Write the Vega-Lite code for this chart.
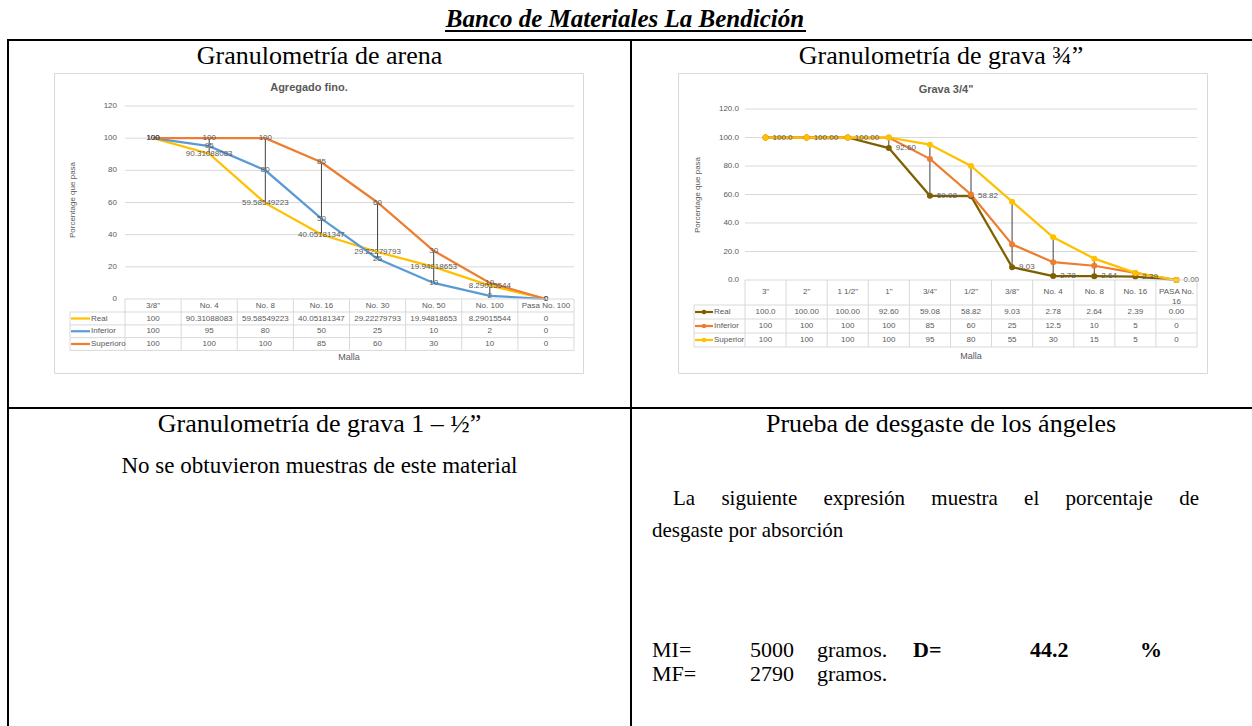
{
"$schema":"https://vega.github.io/schema/vega-lite/v6.json",
"width":1252,"height":726,"padding":0,"autosize":{"type":"none"},
"background":"white",
"config":{"view":{"stroke":null},"axis":{"disable":true},"legend":{"disable":true},"text":{"font":"Liberation Sans"}},
"datasets":{
"fino":[
{"m":"3/8\"","s":"Real","v":100},{"m":"No. 4","s":"Real","v":90.31088083},{"m":"No. 8","s":"Real","v":59.58549223},{"m":"No. 16","s":"Real","v":40.05181347},{"m":"No. 30","s":"Real","v":29.22279793},{"m":"No. 50","s":"Real","v":19.94818653},{"m":"No. 100","s":"Real","v":8.29015544},{"m":"Pasa No. 100","s":"Real","v":0},
{"m":"3/8\"","s":"Inferior","v":100},{"m":"No. 4","s":"Inferior","v":95},{"m":"No. 8","s":"Inferior","v":80},{"m":"No. 16","s":"Inferior","v":50},{"m":"No. 30","s":"Inferior","v":25},{"m":"No. 50","s":"Inferior","v":10},{"m":"No. 100","s":"Inferior","v":2},{"m":"Pasa No. 100","s":"Inferior","v":0},
{"m":"3/8\"","s":"Superioro","v":100},{"m":"No. 4","s":"Superioro","v":100},{"m":"No. 8","s":"Superioro","v":100},{"m":"No. 16","s":"Superioro","v":85},{"m":"No. 30","s":"Superioro","v":60},{"m":"No. 50","s":"Superioro","v":30},{"m":"No. 100","s":"Superioro","v":10},{"m":"Pasa No. 100","s":"Superioro","v":0}
],
"grava":[
{"m":"3\"","s":"Real","v":100,"t":"100.0"},{"m":"2\"","s":"Real","v":100,"t":"100.00"},{"m":"1 1/2\"","s":"Real","v":100,"t":"100.00"},{"m":"1\"","s":"Real","v":92.6,"t":"92.60"},{"m":"3/4\"","s":"Real","v":59.08,"t":"59.08"},{"m":"1/2\"","s":"Real","v":58.82,"t":"58.82"},{"m":"3/8\"","s":"Real","v":9.03,"t":"9.03"},{"m":"No. 4","s":"Real","v":2.78,"t":"2.78"},{"m":"No. 8","s":"Real","v":2.64,"t":"2.64"},{"m":"No. 16","s":"Real","v":2.39,"t":"2.39"},{"m":"PASA No.\n16","s":"Real","v":0,"t":"0.00"},
{"m":"3\"","s":"Inferior","v":100,"t":"100"},{"m":"2\"","s":"Inferior","v":100,"t":"100"},{"m":"1 1/2\"","s":"Inferior","v":100,"t":"100"},{"m":"1\"","s":"Inferior","v":100,"t":"100"},{"m":"3/4\"","s":"Inferior","v":85,"t":"85"},{"m":"1/2\"","s":"Inferior","v":60,"t":"60"},{"m":"3/8\"","s":"Inferior","v":25,"t":"25"},{"m":"No. 4","s":"Inferior","v":12.5,"t":"12.5"},{"m":"No. 8","s":"Inferior","v":10,"t":"10"},{"m":"No. 16","s":"Inferior","v":5,"t":"5"},{"m":"PASA No.\n16","s":"Inferior","v":0,"t":"0"},
{"m":"3\"","s":"Superior","v":100,"t":"100"},{"m":"2\"","s":"Superior","v":100,"t":"100"},{"m":"1 1/2\"","s":"Superior","v":100,"t":"100"},{"m":"1\"","s":"Superior","v":100,"t":"100"},{"m":"3/4\"","s":"Superior","v":95,"t":"95"},{"m":"1/2\"","s":"Superior","v":80,"t":"80"},{"m":"3/8\"","s":"Superior","v":55,"t":"55"},{"m":"No. 4","s":"Superior","v":30,"t":"30"},{"m":"No. 8","s":"Superior","v":15,"t":"15"},{"m":"No. 16","s":"Superior","v":5,"t":"5"},{"m":"PASA No.\n16","s":"Superior","v":0,"t":"0"}
],
"ticks":[{"t":0},{"t":20},{"t":40},{"t":60},{"t":80},{"t":100},{"t":120}]
},
"resolve":{"scale":{"x":"independent","y":"independent","color":"independent"}},
"layer":[
{"data":{"values":[{}]},"mark":{"type":"text","text":"Banco de Materiales La Bendición","font":"Liberation Serif","fontSize":25,"fontWeight":"bold","fontStyle":"italic","align":"center","baseline":"alphabetic","color":"#000000"},"encoding":{"x":{"value":625},"y":{"value":27}}},
{"data":{"values":[{}]},"mark":{"type":"rule","color":"#000000","strokeWidth":2},"encoding":{"x":{"value":445},"x2":{"value":806},"y":{"value":31}}},
{"data":{"values":[{}]},"mark":{"type":"rule","color":"#000000","strokeWidth":2},"encoding":{"x":{"value":7},"x2":{"value":1252},"y":{"value":40}}},
{"data":{"values":[{}]},"mark":{"type":"rule","color":"#000000","strokeWidth":2},"encoding":{"x":{"value":8},"y":{"value":39},"y2":{"value":726}}},
{"data":{"values":[{}]},"mark":{"type":"rule","color":"#000000","strokeWidth":2},"encoding":{"x":{"value":631},"y":{"value":39},"y2":{"value":726}}},
{"data":{"values":[{}]},"mark":{"type":"rule","color":"#000000","strokeWidth":2},"encoding":{"x":{"value":7},"x2":{"value":1252},"y":{"value":408}}},
{"data":{"values":[{}]},"mark":{"type":"text","text":"Granulometría de arena","font":"Liberation Serif","fontSize":26,"align":"center","baseline":"alphabetic","color":"#000000"},"encoding":{"x":{"value":319.5},"y":{"value":64}}},
{"data":{"values":[{}]},"mark":{"type":"text","text":"Granulometría de grava ¾”","font":"Liberation Serif","fontSize":26,"align":"center","baseline":"alphabetic","color":"#000000"},"encoding":{"x":{"value":941},"y":{"value":64}}},
{"data":{"values":[{}]},"mark":{"type":"text","text":"Granulometría de grava 1 – ½”","font":"Liberation Serif","fontSize":26,"align":"center","baseline":"alphabetic","color":"#000000"},"encoding":{"x":{"value":319.5},"y":{"value":432}}},
{"data":{"values":[{}]},"mark":{"type":"text","text":"Prueba de desgaste de los ángeles","font":"Liberation Serif","fontSize":26,"align":"center","baseline":"alphabetic","color":"#000000"},"encoding":{"x":{"value":941},"y":{"value":432}}},
{"data":{"values":[{}]},"mark":{"type":"text","text":"No se obtuvieron muestras de este material","font":"Liberation Serif","fontSize":23,"align":"center","baseline":"alphabetic","color":"#000000"},"encoding":{"x":{"value":319.5},"y":{"value":473}}},
{"data":{"values":[{}]},"mark":{"type":"text","text":"La \u00a0\u00a0\u00a0\u00a0siguiente \u00a0\u00a0\u00a0\u00a0expresión \u00a0\u00a0\u00a0\u00a0muestra \u00a0\u00a0\u00a0\u00a0el \u00a0\u00a0\u00a0\u00a0porcentaje \u00a0\u00a0\u00a0\u00a0de","font":"Liberation Serif","fontSize":21,"align":"left","baseline":"alphabetic","color":"#000000"},"encoding":{"x":{"value":673},"y":{"value":505}}},
{"data":{"values":[{}]},"mark":{"type":"text","text":"desgaste por absorción","font":"Liberation Serif","fontSize":21,"align":"left","baseline":"alphabetic","color":"#000000"},"encoding":{"x":{"value":652},"y":{"value":537}}},
{"data":{"values":[{}]},"mark":{"type":"text","text":"MI=","font":"Liberation Serif","fontSize":22,"align":"left","baseline":"alphabetic","color":"#000000"},"encoding":{"x":{"value":652},"y":{"value":657}}},
{"data":{"values":[{}]},"mark":{"type":"text","text":"5000","font":"Liberation Serif","fontSize":22,"align":"left","baseline":"alphabetic","color":"#000000"},"encoding":{"x":{"value":750},"y":{"value":657}}},
{"data":{"values":[{}]},"mark":{"type":"text","text":"gramos.","font":"Liberation Serif","fontSize":22,"align":"left","baseline":"alphabetic","color":"#000000"},"encoding":{"x":{"value":817},"y":{"value":657}}},
{"data":{"values":[{}]},"mark":{"type":"text","text":"D=","font":"Liberation Serif","fontSize":22,"fontWeight":"bold","align":"left","baseline":"alphabetic","color":"#000000"},"encoding":{"x":{"value":913},"y":{"value":657}}},
{"data":{"values":[{}]},"mark":{"type":"text","text":"44.2","font":"Liberation Serif","fontSize":22,"fontWeight":"bold","align":"left","baseline":"alphabetic","color":"#000000"},"encoding":{"x":{"value":1030},"y":{"value":657}}},
{"data":{"values":[{}]},"mark":{"type":"text","text":"%","font":"Liberation Serif","fontSize":22,"fontWeight":"bold","align":"left","baseline":"alphabetic","color":"#000000"},"encoding":{"x":{"value":1140},"y":{"value":657}}},
{"data":{"values":[{}]},"mark":{"type":"text","text":"MF=","font":"Liberation Serif","fontSize":22,"align":"left","baseline":"alphabetic","color":"#000000"},"encoding":{"x":{"value":652},"y":{"value":681}}},
{"data":{"values":[{}]},"mark":{"type":"text","text":"2790","font":"Liberation Serif","fontSize":22,"align":"left","baseline":"alphabetic","color":"#000000"},"encoding":{"x":{"value":750},"y":{"value":681}}},
{"data":{"values":[{}]},"mark":{"type":"text","text":"gramos.","font":"Liberation Serif","fontSize":22,"align":"left","baseline":"alphabetic","color":"#000000"},"encoding":{"x":{"value":817},"y":{"value":681}}},
{"data":{"values":[{}]},"mark":{"type":"rect","fill":"#FFFFFF","stroke":"#D9D9D9","strokeWidth":1},"encoding":{"x":{"value":54.5},"x2":{"value":583.5},"y":{"value":73.5},"y2":{"value":373.5}}},
{"data":{"values":[{}]},"mark":{"type":"rect","fill":"#FFFFFF","stroke":"#D9D9D9","strokeWidth":1},"encoding":{"x":{"value":678.5},"x2":{"value":1207.5},"y":{"value":73.5},"y2":{"value":373.5}}},
{"data":{"values":[{}]},"mark":{"type":"text","text":"Agregado fino.","fontSize":11,"fontWeight":"bold","align":"center","baseline":"middle","color":"#595959"},"encoding":{"x":{"value":309},"y":{"value":88}}},
{"data":{"values":[{}]},"mark":{"type":"text","text":"Grava 3/4\"","fontSize":11,"fontWeight":"bold","align":"center","baseline":"middle","color":"#595959"},"encoding":{"x":{"value":946},"y":{"value":90}}},
{"data":{"values":[{}]},"mark":{"type":"text","text":"Porcentage que pasa","fontSize":8,"angle":270,"align":"center","baseline":"middle","color":"#595959"},"encoding":{"x":{"value":73},"y":{"value":200}}},
{"data":{"values":[{}]},"mark":{"type":"text","text":"Porcentage que pasa","fontSize":8,"angle":270,"align":"center","baseline":"middle","color":"#595959"},"encoding":{"x":{"value":698},"y":{"value":195}}},
{"data":{"values":[{}]},"mark":{"type":"text","text":"Malla","fontSize":9,"align":"center","baseline":"middle","color":"#595959"},"encoding":{"x":{"value":349},"y":{"value":357}}},
{"data":{"values":[{}]},"mark":{"type":"text","text":"Malla","fontSize":9,"align":"center","baseline":"middle","color":"#595959"},"encoding":{"x":{"value":971},"y":{"value":356}}},

{"layer":[
{"data":{"name":"ticks"},"transform":[{"filter":"datum.t > 0"}],"mark":{"type":"rule","color":"#D9D9D9","strokeWidth":1},"encoding":{"x":{"value":125},"x2":{"value":574},"y":{"field":"t","type":"quantitative","scale":{"type":"linear","domain":[0,120],"range":[299,106],"nice":false,"zero":false}}}},
{"data":{"name":"ticks"},"mark":{"type":"text","align":"right","baseline":"middle","fontSize":8,"color":"#595959"},"encoding":{"x":{"value":117},"y":{"field":"t","type":"quantitative","scale":{"type":"linear","domain":[0,120],"range":[299,106],"nice":false,"zero":false}},"text":{"field":"t","type":"quantitative"}}},
{"data":{"name":"fino"},"mark":{"type":"rule","color":"#404040","strokeWidth":1},"encoding":{"x":{"field":"m","type":"nominal","scale":{"type":"band","domain":["3/8\"","No. 4","No. 8","No. 16","No. 30","No. 50","No. 100","Pasa No. 100"],"range":[125,574],"paddingInner":0,"paddingOuter":0}},"y":{"aggregate":"min","field":"v","type":"quantitative","scale":{"type":"linear","domain":[0,120],"range":[299,106],"nice":false,"zero":false}},"y2":{"aggregate":"max","field":"v"}}},
{"data":{"name":"fino"},"mark":{"type":"line","strokeWidth":2.25},"encoding":{"x":{"field":"m","type":"nominal","sort":["3/8\"","No. 4","No. 8","No. 16","No. 30","No. 50","No. 100","Pasa No. 100"],"scale":{"type":"band","domain":["3/8\"","No. 4","No. 8","No. 16","No. 30","No. 50","No. 100","Pasa No. 100"],"range":[125,574],"paddingInner":0,"paddingOuter":0}},"y":{"field":"v","type":"quantitative","scale":{"type":"linear","domain":[0,120],"range":[299,106],"nice":false,"zero":false}},"color":{"field":"s","type":"nominal","scale":{"domain":["Real","Inferior","Superioro"],"range":["#FFC000","#5B9BD5","#ED7D31"]},"legend":null}}},
{"data":{"name":"fino"},"mark":{"type":"text","fontSize":8,"color":"#595959","baseline":"middle","align":"center"},"encoding":{"x":{"field":"m","type":"nominal","scale":{"type":"band","domain":["3/8\"","No. 4","No. 8","No. 16","No. 30","No. 50","No. 100","Pasa No. 100"],"range":[125,574],"paddingInner":0,"paddingOuter":0}},"y":{"field":"v","type":"quantitative","scale":{"type":"linear","domain":[0,120],"range":[299,106],"nice":false,"zero":false}},"text":{"field":"v","type":"quantitative"}}}
]},

{"layer":[
{"data":{"values":[{}]},"mark":{"type":"rule","color":"#D9D9D9","strokeWidth":1},"encoding":{"x":{"value":125},"x2":{"value":574},"y":{"value":299}}},
{"data":{"values":[{}]},"mark":{"type":"rule","color":"#D9D9D9","strokeWidth":1},"encoding":{"x":{"value":70},"x2":{"value":574},"y":{"value":312}}},
{"data":{"values":[{}]},"mark":{"type":"rule","color":"#D9D9D9","strokeWidth":1},"encoding":{"x":{"value":70},"y":{"value":312},"y2":{"value":350.5}}},
{"data":{"values":[{}]},"mark":{"type":"rule","color":"#D9D9D9","strokeWidth":1},"encoding":{"x":{"value":574},"y":{"value":299},"y2":{"value":350.5}}},
{"data":{"name":"fino"},"transform":[{"filter":{"field":"m","equal":"No. 4"}}],"mark":{"type":"rule","color":"#D9D9D9","strokeWidth":1,"yOffset":6.4},"encoding":{"x":{"value":70},"x2":{"value":574},"y":{"field":"s","type":"nominal","scale":{"type":"point","domain":["Real","Inferior","Superioro"],"range":[318.5,344],"padding":0}}}},
{"data":{"name":"fino"},"transform":[{"filter":{"field":"s","equal":"Real"}}],"mark":{"type":"rule","color":"#D9D9D9","strokeWidth":1},"encoding":{"x":{"field":"m","type":"nominal","bandPosition":0,"scale":{"type":"band","domain":["3/8\"","No. 4","No. 8","No. 16","No. 30","No. 50","No. 100","Pasa No. 100"],"range":[125,574],"paddingInner":0,"paddingOuter":0}},"y":{"value":299},"y2":{"value":350.5}}},
{"data":{"name":"fino"},"transform":[{"filter":{"field":"s","equal":"Real"}}],"mark":{"type":"text","fontSize":8,"color":"#595959","baseline":"middle","align":"center"},"encoding":{"x":{"field":"m","type":"nominal","scale":{"type":"band","domain":["3/8\"","No. 4","No. 8","No. 16","No. 30","No. 50","No. 100","Pasa No. 100"],"range":[125,574],"paddingInner":0,"paddingOuter":0}},"y":{"value":305.5},"text":{"field":"m","type":"nominal"}}},
{"data":{"name":"fino"},"mark":{"type":"text","fontSize":8,"color":"#595959","baseline":"middle","align":"center"},"encoding":{"x":{"field":"m","type":"nominal","scale":{"type":"band","domain":["3/8\"","No. 4","No. 8","No. 16","No. 30","No. 50","No. 100","Pasa No. 100"],"range":[125,574],"paddingInner":0,"paddingOuter":0}},"y":{"field":"s","type":"nominal","scale":{"type":"point","domain":["Real","Inferior","Superioro"],"range":[318.5,344],"padding":0}},"text":{"field":"v","type":"quantitative"}}},
{"data":{"name":"fino"},"transform":[{"filter":{"field":"m","equal":"No. 4"}}],"mark":{"type":"rule","strokeWidth":2.2},"encoding":{"x":{"value":71},"x2":{"value":90},"y":{"field":"s","type":"nominal","scale":{"type":"point","domain":["Real","Inferior","Superioro"],"range":[318.5,344],"padding":0}},"color":{"field":"s","type":"nominal","scale":{"domain":["Real","Inferior","Superioro"],"range":["#FFC000","#5B9BD5","#ED7D31"]},"legend":null}}},
{"data":{"name":"fino"},"transform":[{"filter":{"field":"m","equal":"No. 4"}}],"mark":{"type":"text","fontSize":8,"color":"#595959","baseline":"middle","align":"left"},"encoding":{"x":{"value":91},"y":{"field":"s","type":"nominal","scale":{"type":"point","domain":["Real","Inferior","Superioro"],"range":[318.5,344],"padding":0}},"text":{"field":"s","type":"nominal"}}}
]},

{"layer":[
{"data":{"name":"ticks"},"transform":[{"filter":"datum.t > 0"}],"mark":{"type":"rule","color":"#D9D9D9","strokeWidth":1},"encoding":{"x":{"value":745},"x2":{"value":1197},"y":{"field":"t","type":"quantitative","scale":{"type":"linear","domain":[0,120],"range":[280,109],"nice":false,"zero":false}}}},
{"data":{"name":"ticks"},"mark":{"type":"text","align":"right","baseline":"middle","fontSize":8,"color":"#595959"},"encoding":{"x":{"value":739},"y":{"field":"t","type":"quantitative","scale":{"type":"linear","domain":[0,120],"range":[280,109],"nice":false,"zero":false}},"text":{"field":"t","type":"quantitative","format":".1f"}}},
{"data":{"name":"grava"},"mark":{"type":"rule","color":"#404040","strokeWidth":1},"encoding":{"x":{"field":"m","type":"nominal","scale":{"type":"band","domain":["3\"","2\"","1 1/2\"","1\"","3/4\"","1/2\"","3/8\"","No. 4","No. 8","No. 16","PASA No.\n16"],"range":[745,1197],"paddingInner":0,"paddingOuter":0}},"y":{"aggregate":"min","field":"v","type":"quantitative","scale":{"type":"linear","domain":[0,120],"range":[280,109],"nice":false,"zero":false}},"y2":{"aggregate":"max","field":"v"}}},
{"data":{"name":"grava"},"mark":{"type":"line","strokeWidth":2.25,"point":{"filled":true,"size":36}},"encoding":{"x":{"field":"m","type":"nominal","sort":["3\"","2\"","1 1/2\"","1\"","3/4\"","1/2\"","3/8\"","No. 4","No. 8","No. 16","PASA No.\n16"],"scale":{"type":"band","domain":["3\"","2\"","1 1/2\"","1\"","3/4\"","1/2\"","3/8\"","No. 4","No. 8","No. 16","PASA No.\n16"],"range":[745,1197],"paddingInner":0,"paddingOuter":0}},"y":{"field":"v","type":"quantitative","scale":{"type":"linear","domain":[0,120],"range":[280,109],"nice":false,"zero":false}},"color":{"field":"s","type":"nominal","scale":{"domain":["Real","Inferior","Superior"],"range":["#7F6000","#ED7D31","#FFC000"]},"legend":null}}},
{"data":{"name":"grava"},"transform":[{"filter":{"field":"s","equal":"Real"}}],"mark":{"type":"text","fontSize":8,"color":"#595959","baseline":"middle","align":"left","dx":7},"encoding":{"x":{"field":"m","type":"nominal","scale":{"type":"band","domain":["3\"","2\"","1 1/2\"","1\"","3/4\"","1/2\"","3/8\"","No. 4","No. 8","No. 16","PASA No.\n16"],"range":[745,1197],"paddingInner":0,"paddingOuter":0}},"y":{"field":"v","type":"quantitative","scale":{"type":"linear","domain":[0,120],"range":[280,109],"nice":false,"zero":false}},"text":{"field":"t","type":"nominal"}}}
]},

{"layer":[
{"data":{"values":[{}]},"mark":{"type":"rule","color":"#D9D9D9","strokeWidth":1},"encoding":{"x":{"value":745},"x2":{"value":1197},"y":{"value":280}}},
{"data":{"values":[{}]},"mark":{"type":"rule","color":"#D9D9D9","strokeWidth":1},"encoding":{"x":{"value":694},"x2":{"value":1197},"y":{"value":305}}},
{"data":{"values":[{}]},"mark":{"type":"rule","color":"#D9D9D9","strokeWidth":1},"encoding":{"x":{"value":694},"y":{"value":305},"y2":{"value":347}}},
{"data":{"values":[{}]},"mark":{"type":"rule","color":"#D9D9D9","strokeWidth":1},"encoding":{"x":{"value":1197},"y":{"value":280},"y2":{"value":347}}},
{"data":{"name":"grava"},"transform":[{"filter":{"field":"m","equal":"No. 4"}}],"mark":{"type":"rule","color":"#D9D9D9","strokeWidth":1,"yOffset":7},"encoding":{"x":{"value":694},"x2":{"value":1197},"y":{"field":"s","type":"nominal","scale":{"type":"point","domain":["Real","Inferior","Superior"],"range":[312,340],"padding":0}}}},
{"data":{"name":"grava"},"transform":[{"filter":{"field":"s","equal":"Real"}}],"mark":{"type":"rule","color":"#D9D9D9","strokeWidth":1},"encoding":{"x":{"field":"m","type":"nominal","bandPosition":0,"scale":{"type":"band","domain":["3\"","2\"","1 1/2\"","1\"","3/4\"","1/2\"","3/8\"","No. 4","No. 8","No. 16","PASA No.\n16"],"range":[745,1197],"paddingInner":0,"paddingOuter":0}},"y":{"value":280},"y2":{"value":347}}},
{"data":{"name":"grava"},"transform":[{"filter":{"field":"s","equal":"Real"}}],"mark":{"type":"text","fontSize":8,"color":"#595959","baseline":"middle","align":"center","lineBreak":"\n","lineHeight":10},"encoding":{"x":{"field":"m","type":"nominal","scale":{"type":"band","domain":["3\"","2\"","1 1/2\"","1\"","3/4\"","1/2\"","3/8\"","No. 4","No. 8","No. 16","PASA No.\n16"],"range":[745,1197],"paddingInner":0,"paddingOuter":0}},"y":{"value":292},"text":{"field":"m","type":"nominal"}}},
{"data":{"name":"grava"},"mark":{"type":"text","fontSize":8,"color":"#595959","baseline":"middle","align":"center"},"encoding":{"x":{"field":"m","type":"nominal","scale":{"type":"band","domain":["3\"","2\"","1 1/2\"","1\"","3/4\"","1/2\"","3/8\"","No. 4","No. 8","No. 16","PASA No.\n16"],"range":[745,1197],"paddingInner":0,"paddingOuter":0}},"y":{"field":"s","type":"nominal","scale":{"type":"point","domain":["Real","Inferior","Superior"],"range":[312,340],"padding":0}},"text":{"field":"t","type":"nominal"}}},
{"data":{"name":"grava"},"transform":[{"filter":{"field":"m","equal":"No. 4"}}],"mark":{"type":"rule","strokeWidth":2.2},"encoding":{"x":{"value":695},"x2":{"value":713},"y":{"field":"s","type":"nominal","scale":{"type":"point","domain":["Real","Inferior","Superior"],"range":[312,340],"padding":0}},"color":{"field":"s","type":"nominal","scale":{"domain":["Real","Inferior","Superior"],"range":["#7F6000","#ED7D31","#FFC000"]},"legend":null}}},
{"data":{"name":"grava"},"transform":[{"filter":{"field":"m","equal":"No. 4"}}],"mark":{"type":"point","filled":true,"size":22,"opacity":1},"encoding":{"x":{"value":704},"y":{"field":"s","type":"nominal","scale":{"type":"point","domain":["Real","Inferior","Superior"],"range":[312,340],"padding":0}},"color":{"field":"s","type":"nominal","scale":{"domain":["Real","Inferior","Superior"],"range":["#7F6000","#ED7D31","#FFC000"]},"legend":null}}},
{"data":{"name":"grava"},"transform":[{"filter":{"field":"m","equal":"No. 4"}}],"mark":{"type":"text","fontSize":8,"color":"#595959","baseline":"middle","align":"left"},"encoding":{"x":{"value":714},"y":{"field":"s","type":"nominal","scale":{"type":"point","domain":["Real","Inferior","Superior"],"range":[312,340],"padding":0}},"text":{"field":"s","type":"nominal"}}}
]}
]
}
